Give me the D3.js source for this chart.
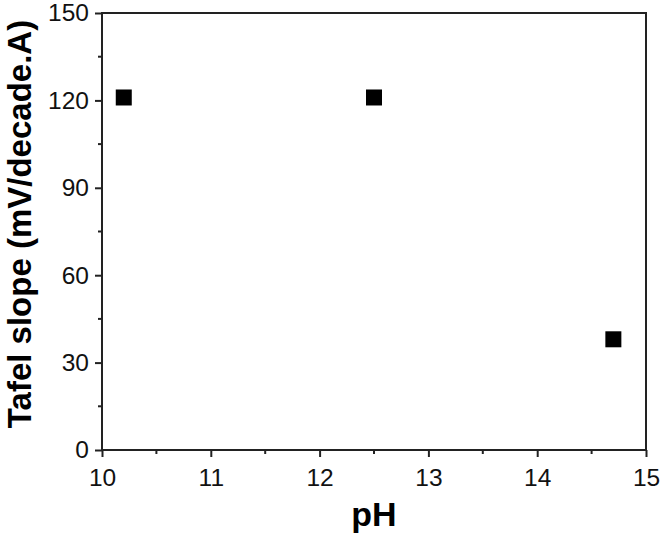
<!DOCTYPE html>
<html><head><meta charset="utf-8">
<script src="https://cdn.jsdelivr.net/npm/d3@7"></script>
<style>body{margin:0;background:#fff}svg{display:block}text{font-family:"Liberation Sans",Arial,sans-serif}</style>
</head><body>
<script>
const pH = [10.2, 12.5, 14.7];
const tafel = [121, 121, 38];
const xTicks = [10, 11, 12, 13, 14, 15];
const yTicks = [0, 30, 60, 90, 120, 150];

const W = 661, H = 536;
const m = {left: 102, top: 13, right: 661 - 646, bottom: 536 - 450};
const svg = d3.select("body").append("svg").attr("width", W).attr("height", H);
const x = d3.scaleLinear().domain([10, 15]).range([m.left, W - m.right]);
const y = d3.scaleLinear().domain([0, 150]).range([H - m.bottom, m.top]);
const col = "#222";

// minor ticks
const xMinor = d3.range(10.5, 15, 1);
const yMinor = d3.range(15, 150, 30);
svg.append("g").selectAll("line").data(xMinor).join("line")
  .attr("x1", d => x(d)).attr("x2", d => x(d)).attr("y1", y(0)).attr("y2", y(0) + 4)
  .attr("stroke", col).attr("stroke-width", 2);
svg.append("g").selectAll("line").data(yMinor).join("line")
  .attr("y1", d => y(d)).attr("y2", d => y(d)).attr("x1", x(10)).attr("x2", x(10) - 4)
  .attr("stroke", col).attr("stroke-width", 2);

const xAxis = svg.append("g").attr("transform", `translate(0,${y(0)})`)
  .call(d3.axisBottom(x).tickValues(xTicks).tickFormat(d3.format("d")).tickSize(7).tickPadding(12).tickSizeOuter(0));
const yAxis = svg.append("g").attr("transform", `translate(${x(10)},0)`)
  .call(d3.axisLeft(y).tickValues(yTicks).tickFormat(d3.format("d")).tickSize(7).tickPadding(6).tickSizeOuter(0));
[xAxis, yAxis].forEach(g => {
  g.select(".domain").remove();
  g.selectAll("line").attr("stroke", col).attr("stroke-width", 2);
  g.selectAll("text").attr("font-size", 24.5).attr("fill", "#111")
    .style("font-family", '"Liberation Sans", Arial, sans-serif');
});

// frame
svg.append("rect").attr("x", x(10)).attr("y", y(150))
  .attr("width", x(15) - x(10)).attr("height", y(0) - y(150))
  .attr("fill", "none").attr("stroke", col).attr("stroke-width", 2);

// points
const s = 16;
svg.append("g").selectAll("rect").data(pH.map((d, i) => [d, tafel[i]])).join("rect")
  .attr("x", d => x(d[0]) - s / 2).attr("y", d => y(d[1]) - s / 2)
  .attr("width", s).attr("height", s).attr("fill", "#000");

svg.append("text").attr("x", (x(10) + x(15)) / 2).attr("y", 526)
  .attr("text-anchor", "middle").attr("font-size", 34).attr("font-weight", "bold").text("pH");
svg.append("text").attr("transform", `translate(31,224) rotate(-90)`)
  .attr("text-anchor", "middle").attr("font-size", 33).attr("font-weight", "bold")
  .text("Tafel slope (mV/decade.A)");
</script>
</body></html>
